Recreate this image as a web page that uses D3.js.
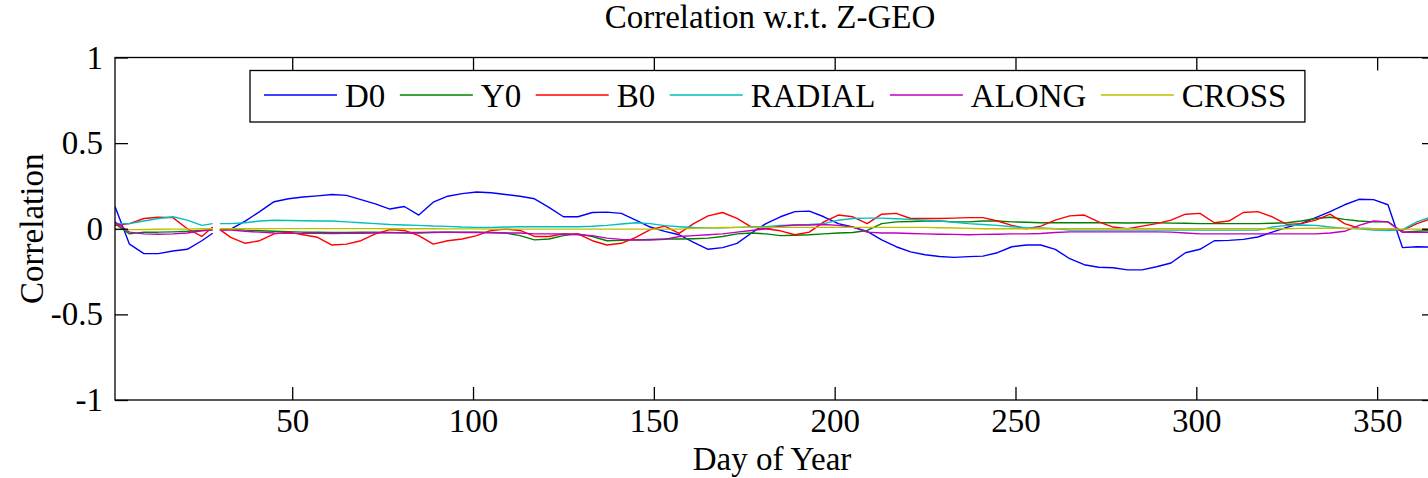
<!DOCTYPE html>
<html>
<head>
<meta charset="utf-8">
<script src="https://cdn.jsdelivr.net/npm/d3@7"></script>
<style>
  body { margin: 0; background: #fff; }
  text { font-family: "Liberation Serif", "Times New Roman", serif; fill: #000; }
</style>
</head>
<body>
<div id="chart"></div>
<script>
// sample days (every 4th day, plus the edges of the missing day 29)
let days = [1, 5, 9, 13, 17, 21, 25, 28, 29, 30].concat(d3.range(33, 366, 4));

let xTicks = [50, 100, 150, 200, 250, 300, 350];
let yTicks = [-1, -0.5, 0, 0.5, 1];

let seriesNames = ['D0', 'Y0', 'B0', 'RADIAL', 'ALONG', 'CROSS'];
let seriesColors = ['#0000ff', '#008000', '#ff0000', '#00bfbf', '#bf00bf', '#bfbf00'];

let D0 = [0.13, -0.09, -0.145, -0.145, -0.13, -0.12, -0.07, -0.026, null, -0.008, -0.002, 0.045,
  0.1, 0.158, 0.175, 0.185, 0.192, 0.2, 0.195, 0.17, 0.145, 0.115,
  0.13, 0.08, 0.155, 0.19, 0.205, 0.215, 0.21, 0.2, 0.19, 0.175,
  0.125, 0.07, 0.07, 0.095, 0.097, 0.09, 0.05, 0.01, -0.015, -0.035,
  -0.08, -0.12, -0.11, -0.085, -0.025, 0.03, 0.07, 0.1, 0.103, 0.07,
  0.03, 0.01, -0.015, -0.065, -0.105, -0.135, -0.152, -0.162, -0.167, -0.163,
  -0.16, -0.14, -0.105, -0.095, -0.095, -0.12, -0.175, -0.21, -0.225, -0.228,
  -0.24, -0.24, -0.222, -0.2, -0.14, -0.12, -0.07, -0.068, -0.062, -0.048,
  -0.02, 0.008, 0.03, 0.065, 0.1, 0.14, 0.172, 0.17, 0.14, -0.11,
  -0.105, -0.107];

let Y0 = [0.03, -0.03, -0.02, -0.02, -0.018, -0.015, -0.01, -0.005, null, 0.0, 0.0, -0.008,
  -0.012, -0.015, -0.017, -0.02, -0.02, -0.022, -0.022, -0.02, -0.02, -0.022,
  -0.025, -0.025, -0.022, -0.02, -0.02, -0.02, -0.022, -0.025, -0.04, -0.065,
  -0.06, -0.04, -0.03, -0.045, -0.07, -0.068, -0.065, -0.062, -0.06, -0.06,
  -0.058, -0.055, -0.045, -0.03, -0.025, -0.03, -0.04, -0.038, -0.035, -0.03,
  -0.025, -0.022, -0.01, 0.03, 0.04, 0.042, 0.045, 0.045, 0.04, 0.04,
  0.045, 0.045, 0.04, 0.038, 0.035, 0.035, 0.035, 0.036, 0.035, 0.035,
  0.034, 0.035, 0.035, 0.033, 0.032, 0.03, 0.03, 0.03, 0.03, 0.03,
  0.032, 0.035, 0.045, 0.06, 0.067, 0.055, 0.045, 0.04, 0.04, -0.02,
  -0.015, -0.01];

let B0 = [0.02, 0.03, 0.06, 0.067, 0.065, 0.0, -0.045, 0.01, null, -0.005, -0.05, -0.085,
  -0.07, -0.03, -0.02, -0.035, -0.05, -0.095, -0.09, -0.07, -0.03, -0.005,
  -0.01, -0.04, -0.09, -0.07, -0.06, -0.04, -0.01, -0.002, -0.01, -0.045,
  -0.045, -0.03, -0.03, -0.07, -0.095, -0.085, -0.05, -0.005, 0.015, -0.027,
  0.03, 0.075, 0.095, 0.06, 0.01, 0.0, -0.012, -0.035, -0.02, 0.04,
  0.08, 0.07, 0.03, 0.085, 0.09, 0.06, 0.06, 0.06, 0.062, 0.065,
  0.065, 0.045, 0.02, 0.0, 0.015, 0.05, 0.075, 0.08, 0.04, 0.01,
  0.0, 0.015, 0.03, 0.05, 0.085, 0.09, 0.035, 0.045, 0.095, 0.1,
  0.07, 0.025, 0.03, 0.05, 0.085, 0.03, 0.003, 0.0, 0.0, -0.01,
  0.03, 0.06];

let RADIAL = [0.03, 0.03, 0.045, 0.06, 0.07, 0.05, 0.02, 0.03, null, 0.03, 0.03, 0.035,
  0.045, 0.05, 0.048, 0.047, 0.045, 0.045, 0.04, 0.035, 0.03, 0.025,
  0.022, 0.02, 0.016, 0.014, 0.01, 0.008, 0.007, 0.01, 0.012, 0.012,
  0.012, 0.012, 0.012, 0.015, 0.02, 0.028, 0.035, 0.03, 0.018, 0.012,
  0.007, 0.005, 0.005, 0.008, 0.01, 0.012, 0.02, 0.022, 0.025, 0.03,
  0.05, 0.06, 0.062, 0.062, 0.058, 0.055, 0.05, 0.045, 0.038, 0.03,
  0.025, 0.02, 0.012, 0.006, 0.005, 0.0, -0.008, -0.008, -0.008, -0.008,
  -0.008, -0.008, -0.008, -0.008, -0.008, -0.008, -0.008, -0.008, -0.008, -0.008,
  0.01, 0.02, 0.022, 0.02, 0.01, 0.002, 0.0, -0.008, -0.01, -0.005,
  0.04, 0.07];

let ALONG = [0.04, -0.02, -0.03, -0.032, -0.03, -0.025, -0.012, -0.008, null, -0.008, -0.008, -0.015,
  -0.02, -0.025, -0.027, -0.027, -0.027, -0.028, -0.027, -0.026, -0.025, -0.024,
  -0.022, -0.022, -0.02, -0.02, -0.022, -0.022, -0.023, -0.025, -0.025, -0.03,
  -0.03, -0.031, -0.035, -0.04, -0.055, -0.062, -0.066, -0.066, -0.062, -0.045,
  -0.04, -0.035, -0.03, -0.02, -0.01, 0.0, 0.015, 0.022, 0.022, 0.025,
  0.02, 0.01, -0.02, -0.025, -0.025, -0.028, -0.03, -0.032, -0.033, -0.035,
  -0.033, -0.032, -0.03, -0.03, -0.028, -0.022, -0.018, -0.018, -0.018, -0.018,
  -0.018, -0.018, -0.018, -0.02, -0.025, -0.03, -0.03, -0.03, -0.03, -0.03,
  -0.03, -0.03, -0.03, -0.03, -0.025, -0.015, 0.02, 0.045, 0.04, -0.02,
  -0.02, -0.02];

let CROSS = [-0.005, -0.005, -0.004, -0.003, -0.002, -0.002, 0.0, 0.0, null, 0.0, 0.0, 0.0,
  0.0, 0.001, 0.001, 0.001, 0.001, 0.001, 0.001, 0.001, 0.001, 0.0,
  0.0, 0.0, 0.0, -0.001, -0.001, -0.001, -0.002, -0.002, -0.002, -0.002,
  -0.002, -0.002, -0.002, -0.002, -0.002, -0.002, -0.002, -0.002, -0.002, -0.002,
  0.002, 0.005, 0.007, 0.008, 0.008, 0.008, 0.008, 0.008, 0.008, 0.008,
  0.008, 0.008, 0.008, 0.008, 0.008, 0.008, 0.008, 0.006, 0.004, 0.002,
  0.0, 0.0, 0.0, 0.0, 0.0, 0.0, 0.0, 0.0, 0.0, 0.0,
  0.0, 0.0, 0.0, 0.0, 0.0, 0.0, 0.0, 0.0, 0.0, 0.0,
  0.0, 0.0, 0.002, 0.003, 0.003, 0.003, 0.002, 0.0, 0.0, -0.002,
  -0.002, -0.002];

let seriesValues = [D0, Y0, B0, RADIAL, ALONG, CROSS];

let width = 1428, height = 478;
let margin = { top: 57.5, right: -7, bottom: 78, left: 115 };
let innerW = width - margin.left - margin.right,
  innerH = height - margin.top - margin.bottom;
let fontSize = 33;
let tickLen = 13;

let svg = d3.select('#chart').append('svg')
  .attr('width', width)
  .attr('height', height);

let x = d3.scaleLinear().domain([1, 366]).range([0, innerW]);
let y = d3.scaleLinear().domain([-1, 1]).range([innerH, 0]);

let g = svg.append('g')
  .attr('transform', 'translate(' + margin.left + ',' + margin.top + ')');

g.append('clipPath').attr('id', 'clip')
  .append('rect').attr('width', innerW).attr('height', innerH);

// data lines
let line = d3.line()
  .defined(d => d[1] !== null)
  .x(d => x(d[0]))
  .y(d => y(d[1]));

let lines = g.append('g').attr('clip-path', 'url(#clip)');
seriesValues.forEach((vals, i) => {
  lines.append('path')
    .datum(days.map((d, j) => [d, vals[j]]))
    .attr('fill', 'none')
    .attr('stroke', seriesColors[i])
    .attr('stroke-width', 1.4)
    .attr('stroke-linejoin', 'round')
    .attr('d', line);
});

// axes, ticks pointing inward, box all round
let axisStyle = sel => {
  sel.select('.domain').remove();
  sel.selectAll('line').attr('stroke', '#000').attr('stroke-width', 1.3);
  sel.selectAll('text').style('font-size', fontSize + 'px')
    .style('font-family', '"Liberation Serif", serif').attr('fill', '#000');
};

// plain hyphen minus like the original
let numFormat = d => String(d);

g.append('g')
  .attr('transform', 'translate(0,' + innerH + ')')
  .call(d3.axisBottom(x).tickValues(xTicks).tickSize(-tickLen).tickPadding(9).tickFormat(numFormat))
  .call(axisStyle);

g.append('g')
  .call(d3.axisTop(x).tickValues(xTicks).tickSize(-tickLen).tickFormat(''))
  .call(axisStyle);

g.append('g')
  .call(d3.axisLeft(y).tickValues(yTicks).tickSize(-tickLen).tickPadding(12).tickFormat(numFormat))
  .call(axisStyle);

g.append('g')
  .attr('transform', 'translate(' + innerW + ',0)')
  .call(d3.axisRight(y).tickValues(yTicks).tickSize(-tickLen).tickFormat(''))
  .call(axisStyle);

g.append('rect')
  .attr('width', innerW)
  .attr('height', innerH)
  .attr('fill', 'none')
  .attr('stroke', '#000')
  .attr('stroke-width', 1.3);

// titles
svg.append('text')
  .attr('x', 770)
  .attr('y', 28)
  .attr('text-anchor', 'middle')
  .style('font-size', fontSize + 'px')
  .text('Correlation w.r.t. Z-GEO');

svg.append('text')
  .attr('x', 772)
  .attr('y', 470)
  .attr('text-anchor', 'middle')
  .style('font-size', fontSize + 'px')
  .text('Day of Year');

svg.append('text')
  .attr('transform', 'translate(43,' + (margin.top + y(0)) + ') rotate(-90)')
  .attr('text-anchor', 'middle')
  .style('font-size', fontSize + 'px')
  .text('Correlation');

// legend
let legend = svg.append('g');
let legBox = legend.append('rect')
  .attr('fill', '#fff')
  .attr('stroke', '#000')
  .attr('stroke-width', 1.3);

let lx = 264, ly = 95;
seriesNames.forEach((name, i) => {
  legend.append('line')
    .attr('x1', lx).attr('x2', lx + 73)
    .attr('y1', ly).attr('y2', ly)
    .attr('stroke', seriesColors[i])
    .attr('stroke-width', 1.4);
  let t = legend.append('text')
    .attr('x', lx + 81)
    .attr('y', ly + 11.5)
    .style('font-size', fontSize + 'px')
    .text(name);
  lx += 81 + t.node().getComputedTextLength() + 14.5;
});

legBox.attr('x', 250).attr('y', 70.5)
  .attr('width', lx + 4 - 250)
  .attr('height', 51.5);
</script>
</body>
</html>
